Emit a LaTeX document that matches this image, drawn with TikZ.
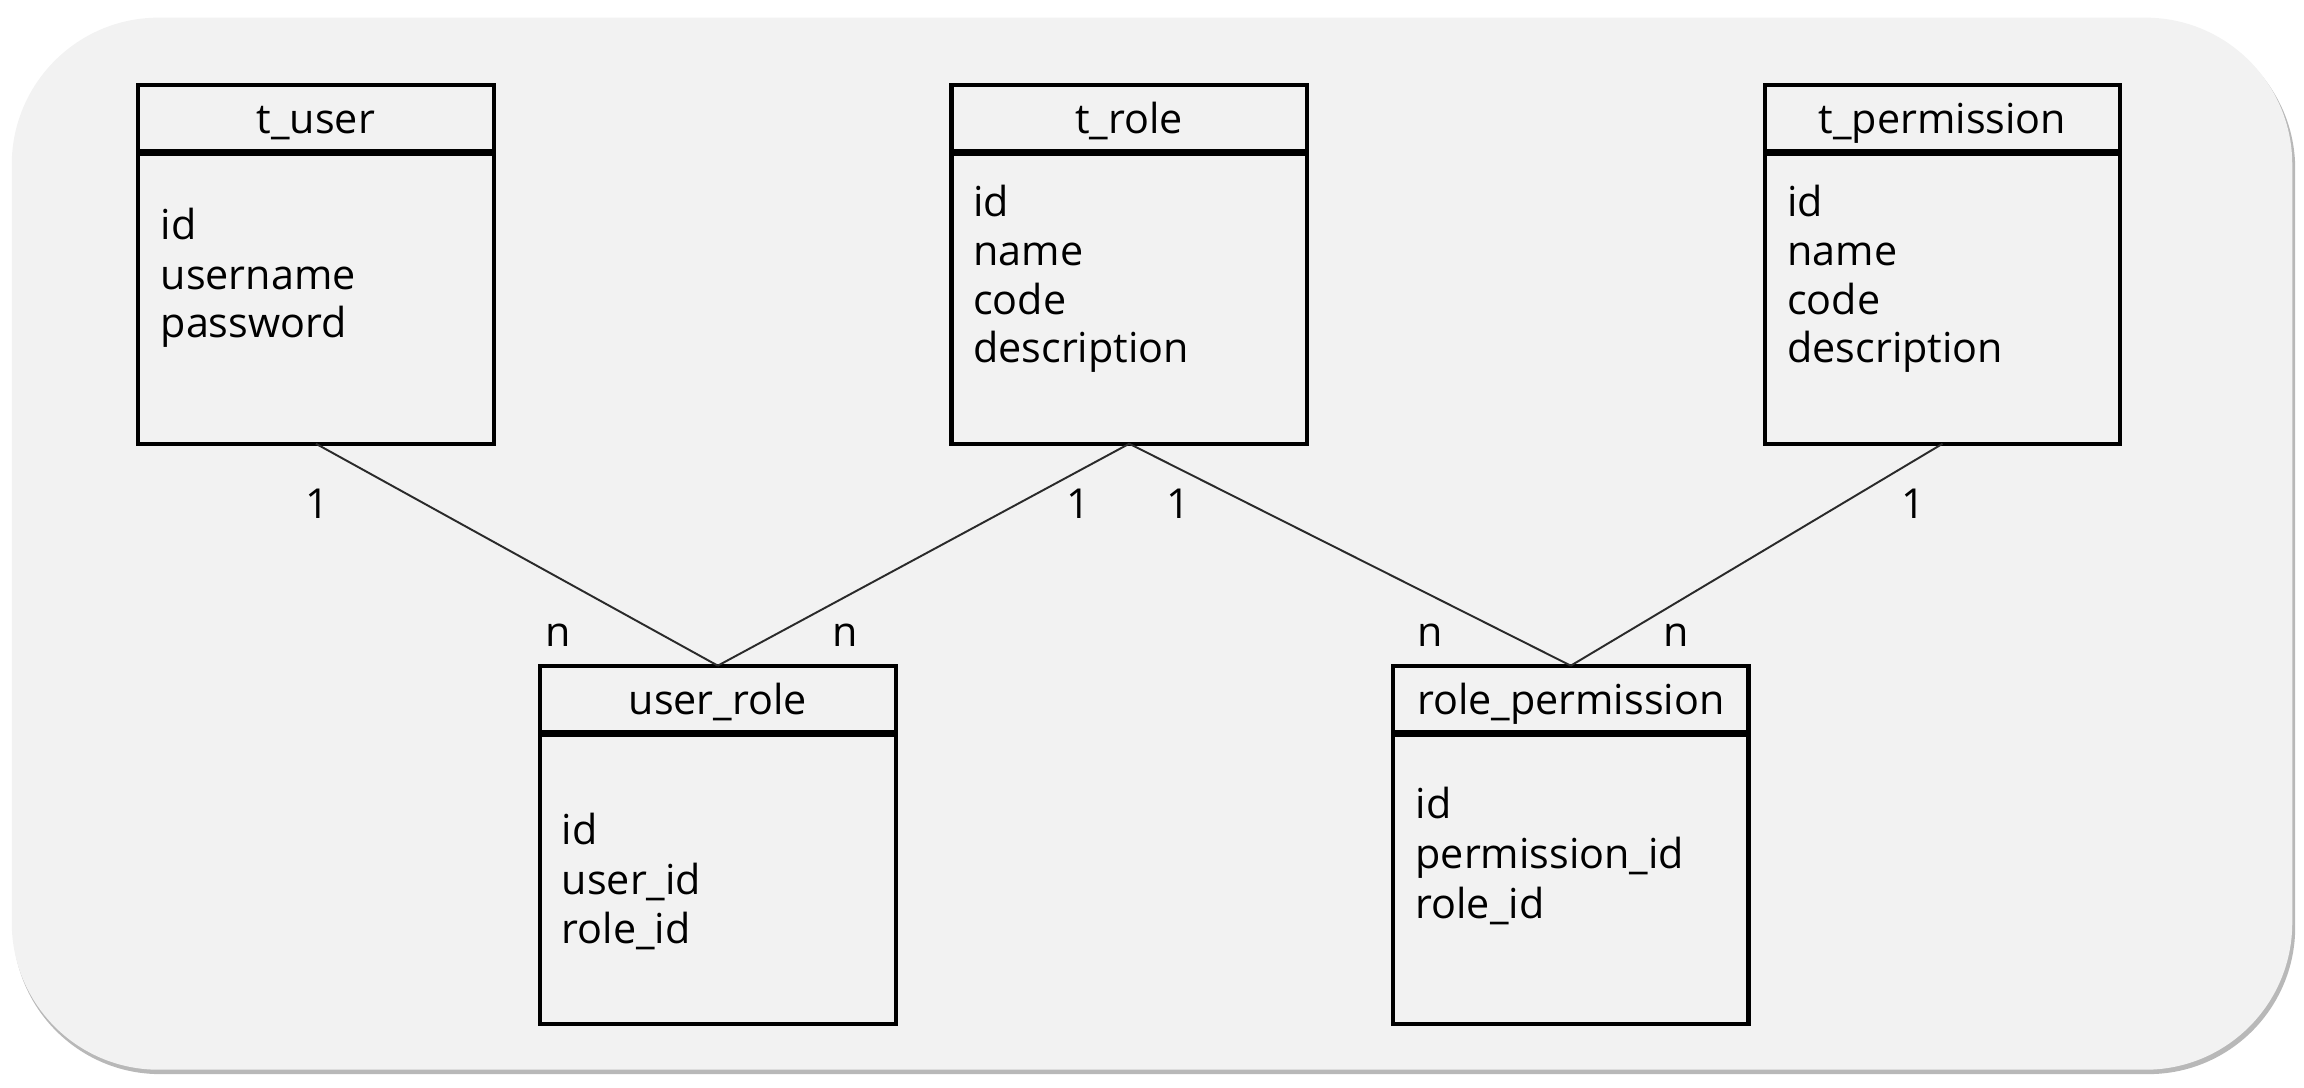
\documentclass[tikz,border=0pt]{standalone}
\usepackage{fontspec}
\setmainfont{Open Sans}
\definecolor{bgfill}{HTML}{F2F2F2}
\definecolor{shadowc}{HTML}{B8B8B8}
\definecolor{linec}{HTML}{2A2A2A}
\tikzset{
  tbl/.style={draw=black, line width=1.6pt, minimum width=4.84cm, minimum height=4.88cm, inner sep=0pt, outer sep=0pt},
  hdr/.style={draw=black, line width=2.6pt},
  title/.style={font=\fontsize{16}{19}\selectfont, anchor=base, inner sep=0pt},
  field/.style={font=\fontsize{16}{19}\selectfont, anchor=base west, inner sep=0pt},
  card/.style={font=\fontsize{16}{19}\selectfont, anchor=center, inner sep=0pt},
  conn/.style={draw=linec, line width=0.75pt}
}
\begin{document}
\begin{tikzpicture}[x=0.02cm,y=-0.02cm]
\useasboundingbox (0,0) rectangle (1568,740);
% background panel
\fill[shadowc, rounded corners=2cm] (9,15) rectangle (1562,731);
\fill[bgfill, rounded corners=2cm] (8,12) rectangle (1560,728);

% tables
\node[tbl] (tuser) at (215,180) {};
\node[tbl] (trole) at (768.5,180) {};
\node[tbl] (tperm) at (1322,180) {};
\node[tbl] (urole) at (488.5,575) {};
\node[tbl] (rperm) at (1069,575) {};

% header separators
\foreach \n in {tuser,trole,tperm,urole,rperm}{
  \draw[hdr] ([yshift=-0.92cm]\n.north west) -- ([yshift=-0.92cm]\n.north east);
}

% titles
\node[title] (tuserT) at (215,91) {t\_user};
\node[title] (troleT) at (768.5,91) {t\_role};
\node[title] (tpermT) at (1322,91) {t\_permission};
\node[title] (uroleT) at (488.5,486) {user\_role};
\node[title] (rpermT) at (1069,486) {role\_permission};

% fields
\node[field] (tu1) at (109,163) {id};
\node[field] (tu2) at (109,197) {username};
\node[field] (tu3) at (109,230) {password};

\node[field] (tr1) at (662,147) {id};
\node[field] (tr2) at (662,181) {name};
\node[field] (tr3) at (662,214) {code};
\node[field] (tr4) at (662,247) {description};

\node[field] (tp1) at (1216,147) {id};
\node[field] (tp2) at (1216,181) {name};
\node[field] (tp3) at (1216,214) {code};
\node[field] (tp4) at (1216,247) {description};

\node[field] (ur1) at (382,575) {id};
\node[field] (ur2) at (382,609) {user\_id};
\node[field] (ur3) at (382,642) {role\_id};

\node[field] (rp1) at (963,557) {id};
\node[field] (rp2) at (963,591) {permission\_id};
\node[field] (rp3) at (963,625) {role\_id};

% connectors
\draw[conn] (tuser.south) -- (urole.north);
\draw[conn] (trole.south) -- (urole.north);
\draw[conn] (trole.south) -- (rperm.north);
\draw[conn] (tperm.south) -- (rperm.north);

% cardinalities
\node[card] (c1) at (216,343) {1};
\node[card] (c2) at (734,343) {1};
\node[card] (c3) at (802,343) {1};
\node[card] (c4) at (1302,343) {1};
\node[card] (n1) at (380,432) {n};
\node[card] (n2) at (575,432) {n};
\node[card] (n3) at (973,432) {n};
\node[card] (n4) at (1141,432) {n};
\end{tikzpicture}
\end{document}
